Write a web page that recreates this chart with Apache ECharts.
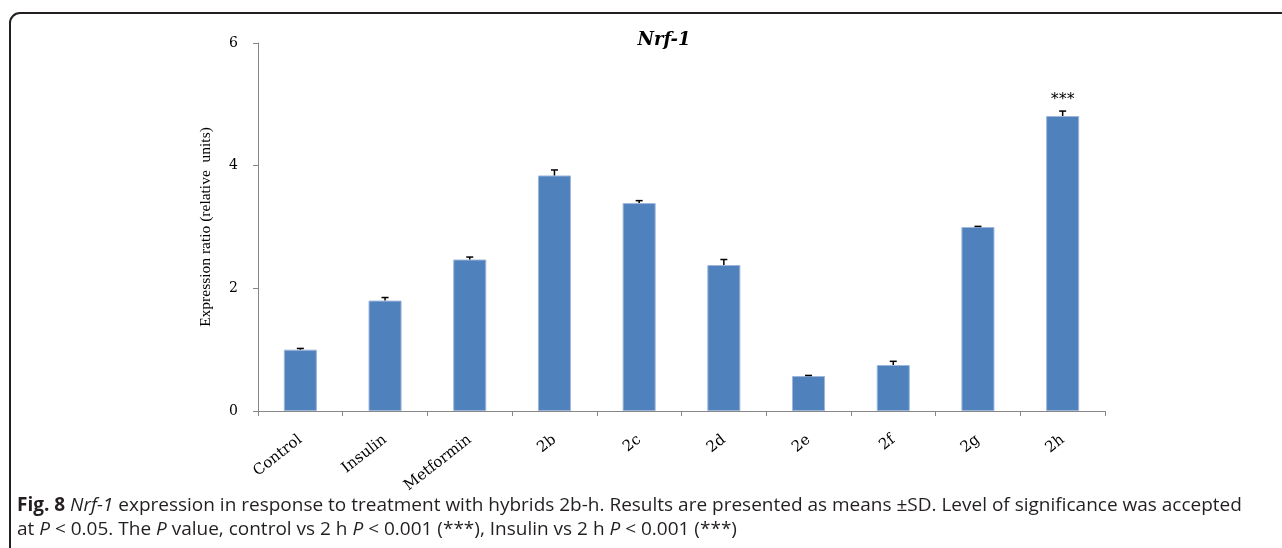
<!DOCTYPE html>
<html>
<head>
<meta charset="utf-8">
<script src="https://cdn.jsdelivr.net/npm/echarts@6/dist/echarts.min.js"></script>
<style>
  html, body { margin: 0; padding: 0; background: #ffffff; }
  #chart { width: 1282px; height: 548px; }
</style>
</head>
<body>
<div id="chart"></div>
<script>
// Nrf-1 expression per treatment (mean and SD, relative units)
const categories = ['Control', 'Insulin', 'Metformin', '2b', '2c', '2d', '2e', '2f', '2g', '2h'];
const means = [1.00, 1.80, 2.47, 3.84, 3.39, 2.38, 0.57, 0.75, 3.00, 4.81];
const sd = [0.02, 0.05, 0.04, 0.09, 0.04, 0.09, 0.01, 0.06, 0.01, 0.08];
const significance = ['', '', '', '', '', '', '', '', '', '***'];
const yTicks = [0, 2, 4, 6];

const serif = '"DejaVu Serif", "Liberation Serif", serif';

const errorData = categories.map((c, i) => [i, means[i], sd[i]]);

const chart = echarts.init(document.getElementById('chart'), null, { renderer: 'canvas' });

chart.setOption({
  animation: false,
  backgroundColor: '#ffffff',
  title: {
    text: 'Nrf-1',
    left: 659,
    top: 26,
    textAlign: 'center',
    textStyle: { fontFamily: serif, fontStyle: 'italic', fontWeight: 'bold', fontSize: 18, color: '#000000' }
  },
  grid: { left: 258, right: 177, top: 43, bottom: 137, containLabel: false },
  xAxis: {
    type: 'category',
    data: categories,
    boundaryGap: true,
    axisLine: { lineStyle: { color: '#868686', width: 1 } },
    axisTick: { show: true, length: 5, lineStyle: { color: '#868686' } },
    axisLabel: { interval: 0, rotate: 38, margin: 27, fontFamily: serif, fontSize: 15, color: '#000000' },
    splitLine: { show: false }
  },
  yAxis: {
    type: 'value',
    min: yTicks[0],
    max: yTicks[yTicks.length - 1],
    interval: yTicks[1] - yTicks[0],
    name: 'Expression ratio (relative  units)',
    nameLocation: 'middle',
    nameGap: 44,
    nameRotate: 90,
    nameTextStyle: { fontFamily: '"Liberation Serif", serif', fontSize: 15.5, color: '#000000' },
    axisLine: { show: true, lineStyle: { color: '#868686', width: 1 } },
    axisTick: { show: true, length: 5, lineStyle: { color: '#868686' } },
    axisLabel: { margin: 20, fontFamily: serif, fontSize: 14, color: '#000000' },
    splitLine: { show: false }
  },
  series: [
    {
      type: 'bar',
      data: means,
      barWidth: '39%',
      itemStyle: { color: '#4f81bd', borderColor: '#9db6da', borderWidth: 1 },
      z: 2
    },
    {
      // upper SD whisker with cap, plus significance stars
      type: 'custom',
      data: errorData,
      z: 5,
      renderItem: function (params, api) {
        const idx = api.value(0);
        const m = api.value(1);
        const s = api.value(2);
        const base = api.coord([idx, m]);
        const tip = api.coord([idx, m + s]);
        const half = 3.5;
        const children = [
          { type: 'line', shape: { x1: base[0], y1: base[1], x2: tip[0], y2: tip[1] },
            style: { stroke: '#000000', lineWidth: 1.5 } },
          { type: 'line', shape: { x1: tip[0] - half, y1: tip[1], x2: tip[0] + half, y2: tip[1] },
            style: { stroke: '#000000', lineWidth: 1.5 } }
        ];
        const sig = significance[params.dataIndex];
        if (sig) {
          children.push({
            type: 'text',
            style: { text: sig, x: tip[0], y: tip[1] - 3, align: 'center', verticalAlign: 'bottom',
              font: '16px "DejaVu Sans", sans-serif', fill: '#000000' }
          });
        }
        return { type: 'group', children: children };
      }
    }
  ],
  graphic: [
    {
      type: 'rect',
      shape: { x: 10, y: 13, width: 1320, height: 620, r: 10 },
      style: { fill: 'none', stroke: '#231f20', lineWidth: 2 },
      silent: true
    },
    {
      type: 'text',
      left: 17,
      top: 494,
      style: {
        text: '{b|Fig. 8} {i|Nrf-1} expression in response to treatment with hybrids 2b-h. Results are presented as means ±SD. Level of significance was accepted\n' +
              'at {i|P} < 0.05. The {i|P} value, control vs 2 h {i|P} < 0.001 (***), Insulin vs 2 h {i|P} < 0.001 (***)',
        font: '19px "Open Sans", sans-serif',
        fill: '#231f20',
        lineHeight: 24,
        rich: {
          b: { fontWeight: 'bold', fontFamily: '"Open Sans", sans-serif', fontSize: 19, fill: '#231f20', lineHeight: 24 },
          i: { fontStyle: 'italic', fontFamily: '"Open Sans", sans-serif', fontSize: 19, fill: '#231f20', lineHeight: 24 }
        }
      },
      silent: true
    }
  ]
});
</script>
</body>
</html>
